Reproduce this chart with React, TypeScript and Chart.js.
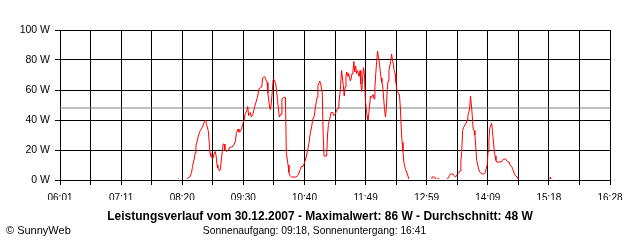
import { useEffect, useRef } from 'react';
import { Chart, registerables } from 'chart.js';

Chart.register(...registerables);

// Sample times (HH:MM) and power in W
const times = [
  '08:16','08:17','08:25','08:26','08:29','08:31','08:32','08:34','08:35','08:36','08:37','08:39','08:41','08:42','08:44','08:45','08:47','08:48','08:50','08:51','08:52','08:53','08:55','08:56','08:57','08:58','08:59',
  '09:00','09:01','09:03','09:04','09:05','09:06','09:07','09:08','09:09','09:11','09:13','09:15','09:17','09:19','09:21','09:22','09:24','09:25','09:26','09:28','09:29','09:31','09:32','09:34','09:35','09:36','09:38','09:39','09:41','09:43','09:46','09:48','09:51','09:52','09:54','09:55','09:57','09:58',
  '10:00','10:01','10:02','10:04','10:05','10:07','10:09','10:11','10:13','10:14','10:16','10:18','10:19','10:21','10:22','10:23','10:25','10:30','10:32','10:33','10:35','10:36','10:38','10:40','10:42','10:43','10:45','10:46','10:48','10:49','10:51','10:52','10:54','10:55','10:56','10:57','10:58',
  '11:00','11:01','11:02','11:05','11:06','11:07','11:09','11:10','11:12','11:13','11:15','11:16','11:18','11:19','11:20','11:21','11:22','11:23','11:24','11:25','11:26','11:27','11:28','11:29','11:30','11:32','11:33','11:34','11:35','11:36','11:37','11:38','11:39','11:40','11:42','11:43','11:44','11:45','11:46','11:47','11:48','11:49','11:50','11:51','11:52','11:53','11:54','11:55','11:56','11:58','11:59',
  '12:00','12:01','12:02','12:03','12:04','12:05','12:06','12:07','12:08','12:09','12:10','12:11','12:12','12:13','12:14','12:15','12:16','12:18','12:19','12:20','12:21','12:22','12:23','12:24','12:25','12:26','12:27','12:28','12:29','12:30','12:31','12:32','12:33','12:34','12:35','12:37','12:38','12:39','12:40',
  '13:04','13:05','13:07','13:08','13:10','13:12','13:13','13:22','13:24','13:25','13:26','13:29','13:30','13:32','13:33','13:34','13:36','13:37','13:38','13:39','13:40','13:41','13:42','13:44','13:45','13:46','13:47','13:48','13:49','13:50','13:51','13:52','13:53','13:54','13:55','13:56','13:58','13:59',
  '14:00','14:02','14:04','14:06','14:07','14:08','14:09','14:10','14:11','14:12','14:13','14:14','14:15','14:16','14:17','14:18','14:19','14:24','14:25','14:27','14:29','14:30','14:32','14:33','14:34','14:36','14:37','14:38','14:39','14:40','14:42','14:43','14:45','14:46',
  '15:19','15:20','15:21',
];

const watts = [
  1,0,0,1,2,5,9,14,18,23,25,30,33,34,36,38,40,37,33,26,18,16,14,16,18,19,16,
  10,8,6,8,14,19,24,24,20,19,20,22,22,23,26,31,34,32,32,34,37,40,44,46,49,43,45,42,44,49,55,61,62,68,69,68,65,58,
  48,47,52,67,67,64,53,42,44,54,55,55,18,10,5,3,2,2,3,4,7,9,9,12,16,19,25,30,36,40,43,48,55,63,64,66,65,
  58,31,16,16,30,37,42,45,45,43,44,46,48,52,57,64,73,68,63,56,62,69,72,69,71,66,68,71,73,79,72,76,71,73,69,73,64,59,68,75,71,55,48,43,40,44,50,56,55,57,54,
  62,71,79,86,82,78,73,68,65,62,54,47,42,48,60,66,73,79,84,80,77,73,71,65,60,59,57,57,48,35,25,19,12,9,7,4,2,0,0,
  0,2,2,2,0,1,0,0,2,3,4,4,3,2,3,4,5,6,13,19,33,35,36,38,40,43,45,48,56,50,43,34,33,30,22,13,8,6,
  5,4,4,5,8,10,19,27,35,36,38,33,26,20,16,13,12,12,13,14,14,13,12,12,10,9,7,6,4,3,2,1,0,0,
  0,2,0,
];

const xTickLabels = ['06:01', '07:11', '08:20', '09:30', '10:40', '11:49', '12:59', '14:09', '15:18', '16:28'];
const yTicks = [0, 20, 40, 60, 80, 100];
const dateText = '30.12.2007';
const maximum = 86;
const average = 48;
const sunrise = '09:18';
const sunset = '16:41';
const copyright = '© SunnyWeb';

const FONT = '"Liberation Sans", Arial, sans-serif';

const toMin = (t: string) => {
  const [h, m] = t.split(':').map(Number);
  return h * 60 + m;
};

export default function App() {
  const ref = useRef<HTMLCanvasElement | null>(null);

  useEffect(() => {
    document.body.style.margin = '0';
    const canvas = ref.current;
    if (!canvas) return;

    const xMin = toMin(xTickLabels[0]);
    const xMax = toMin(xTickLabels[xTickLabels.length - 1]);
    const gridCount = (xTickLabels.length - 1) * 2;

    const textPlugin = {
      id: 'bottomText',
      afterDraw(chart: any) {
        const ctx = chart.ctx;
        const cx = chart.width / 2;
        ctx.save();
        ctx.fillStyle = '#000';
        ctx.textBaseline = 'alphabetic';
        ctx.textAlign = 'center';
        ctx.font = `bold 12px ${FONT}`;
        ctx.fillText(
          `Leistungsverlauf vom ${dateText} - Maximalwert: ${maximum} W - Durchschnitt: ${average} W`,
          cx,
          220
        );
        ctx.font = `10.3px ${FONT}`;
        ctx.fillText(`Sonnenaufgang: ${sunrise}, Sonnenuntergang: ${sunset}`, cx - 5.5, 234);
        ctx.textAlign = 'left';
        ctx.font = `11px ${FONT}`;
        ctx.fillText(copyright, 6, 234);
        ctx.restore();
      },
    };

    const axisPlugin = {
      id: 'axisOnTop',
      afterDatasetsDraw(chart: any) {
        const { ctx, chartArea } = chart;
        const y = Math.round(chartArea.bottom) + 0.5;
        ctx.save();
        ctx.strokeStyle = '#000';
        ctx.lineWidth = 1;
        ctx.beginPath();
        ctx.moveTo(chartArea.left, y);
        ctx.lineTo(chartArea.right + 1, y);
        ctx.stroke();
        ctx.restore();
      },
    };

    const chart = new Chart(canvas, {
      type: 'line',
      data: {
        datasets: [
          {
            label: 'Leistung',
            data: times.map((t, i) => ({ x: toMin(t), y: watts[i] })),
            borderColor: '#ff0000',
            borderWidth: 1,
            pointRadius: 0,
            tension: 0,
            fill: false,
            clip: { left: 0, top: 0, right: 0, bottom: -1 },
            order: 1,
          },
          {
            label: 'Durchschnitt',
            data: [
              { x: xMin, y: average },
              { x: xMax, y: average },
            ],
            borderColor: '#808080',
            borderWidth: 1,
            pointRadius: 0,
            fill: false,
            order: 2,
          },
        ],
      },
      plugins: [axisPlugin, textPlugin],
      options: {
        animation: false,
        responsive: false,
        devicePixelRatio: 1,
        layout: { padding: { top: 30, right: 30, bottom: 40, left: 0 } },
        plugins: {
          legend: { display: false },
          tooltip: { enabled: false },
          title: { display: false },
        },
        scales: {
          x: {
            type: 'linear',
            min: xMin,
            max: xMax,
            afterBuildTicks: (scale: any) => {
              const ticks = [];
              for (let i = 0; i <= gridCount; i++) {
                ticks.push({ value: xMin + (i * (xMax - xMin)) / gridCount });
              }
              scale.ticks = ticks;
            },
            afterFit: (scale: any) => {
              scale.height = 20;
            },
            grid: { color: '#000', lineWidth: 1, tickLength: 5, drawTicks: true },
            border: { color: '#000', width: 1 },
            ticks: {
              autoSkip: false,
              maxRotation: 0,
              minRotation: 0,
              padding: 7,
              color: '#000',
              font: { family: FONT, size: 10 },
              callback: (_v: any, index: number) => (index % 2 === 0 ? xTickLabels[index / 2] : ''),
            },
          },
          y: {
            type: 'linear',
            min: yTicks[0],
            max: yTicks[yTicks.length - 1],
            afterBuildTicks: (scale: any) => {
              scale.ticks = yTicks.map((v) => ({ value: v }));
            },
            afterFit: (scale: any) => {
              scale.width = 60;
            },
            grid: { color: '#000', lineWidth: 1, tickLength: 5, drawTicks: true },
            border: { color: '#000', width: 1 },
            ticks: {
              padding: 5,
              color: '#000',
              font: { family: FONT, size: 10.5 },
              callback: (v: any) => `${v} W`,
            },
          },
        },
      },
    });

    return () => chart.destroy();
  }, []);

  return (
    <div style={{ width: 640, height: 240, background: '#fff' }}>
      <canvas ref={ref} width={640} height={240} style={{ display: 'block' }} />
    </div>
  );
}
